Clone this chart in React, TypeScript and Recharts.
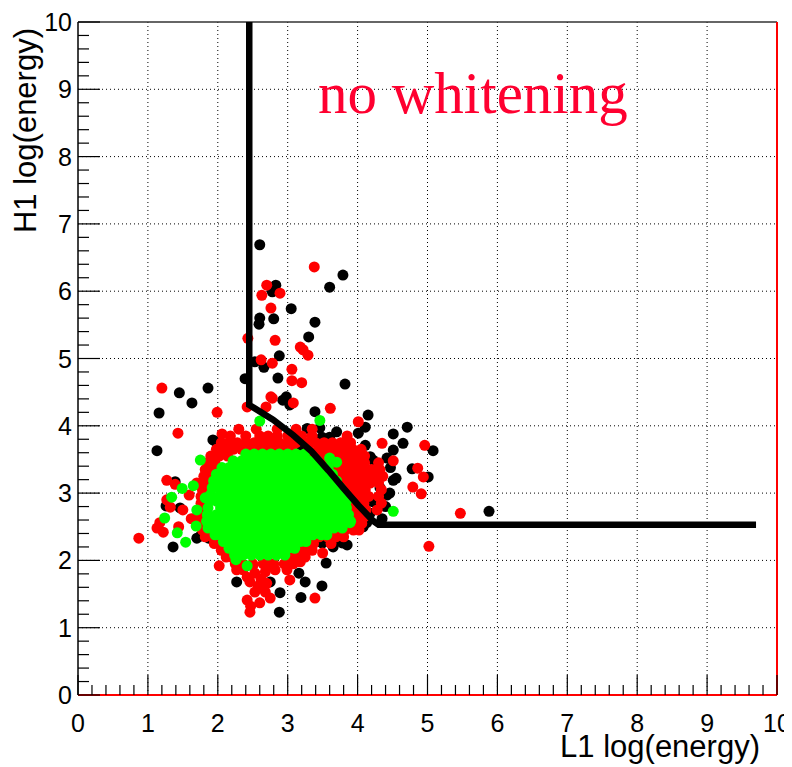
import React from 'react';
import {
  ScatterChart,
  Scatter,
  XAxis,
  YAxis,
  CartesianGrid,
  ReferenceLine,
  Customized,
} from 'recharts';

// ---- axis ticks -------------------------------------------------------
const MAJOR_TICKS = [0, 1, 2, 3, 4, 5, 6, 7, 8, 9, 10];
const MINOR_TICKS = [
  0.2, 0.4, 0.6, 0.8, 1.2, 1.4, 1.6, 1.8, 2.2, 2.4, 2.6, 2.8, 3.2, 3.4, 3.6, 3.8,
  4.2, 4.4, 4.6, 4.8, 5.2, 5.4, 5.6, 5.8, 6.2, 6.4, 6.6, 6.8, 7.2, 7.4, 7.6, 7.8,
  8.2, 8.4, 8.6, 8.8, 9.2, 9.4, 9.6, 9.8,
];
const GRID_VALUES = [1, 2, 3, 4, 5, 6, 7, 8, 9];

// ---- events: all (black) ----------------------------------------------
const BLACK_EVENTS: [number, number][] = [
  [2.60, 6.69], [3.79, 6.24], [3.60, 6.06], [2.83, 6.09], [2.78, 5.99], [3.05, 5.74],
  [2.60, 5.60], [2.59, 5.51], [2.80, 5.59], [3.39, 5.54], [3.30, 5.32], [2.88, 5.04],
  [2.53, 4.95], [2.66, 4.87], [2.39, 4.70], [2.86, 4.71], [3.82, 4.62], [2.98, 4.43],
  [2.93, 4.38], [3.03, 4.31], [3.39, 4.21],
  [1.45, 4.49], [1.63, 4.34], [1.86, 4.56], [1.16, 4.19], [1.13, 3.63], [1.97, 3.77],
  [1.93, 3.79], [2.22, 3.68], [2.32, 3.71], [1.26, 2.81], [1.46, 2.78], [1.39, 3.17],
  [1.89, 2.97], [1.36, 2.20], [1.70, 2.33], [1.87, 2.33], [1.75, 2.36], [1.66, 2.62],
  [2.27, 1.68], [2.60, 1.63], [2.75, 1.68], [2.88, 1.23], [2.89, 1.52], [3.19, 1.45],
  [3.49, 1.62], [3.25, 1.68], [3.16, 1.81], [3.55, 1.96], [3.18, 2.12], [3.50, 2.26],
  [3.78, 2.26], [3.85, 2.23], [3.49, 2.26], [3.36, 2.33], [3.65, 2.20], [2.32, 1.98],
  [4.15, 4.16], [4.11, 3.98], [4.71, 3.98], [4.01, 3.89], [3.70, 3.91], [3.49, 3.83],
  [3.46, 3.97], [3.60, 3.83], [3.28, 3.96],
  [4.51, 3.88], [4.65, 3.74], [4.51, 3.64], [4.11, 3.71], [4.18, 3.54], [4.42, 3.52],
  [5.08, 3.63], [4.78, 3.36], [5.01, 3.24], [5.88, 2.73], [4.22, 3.49], [4.32, 3.08],
  [4.42, 2.97], [4.22, 2.87], [4.18, 2.70], [4.13, 2.56], [4.08, 2.50], [3.75, 2.30],
  [4.51, 3.19], [4.46, 3.00], [4.47, 3.38], [4.55, 3.22], [3.18, 3.71], [4.40, 2.80],
  [4.35, 2.62],
];

// ---- events after first selection (red) --------------------------------
// dense band around the core, one entry per row: [y, xs]
const RED_BAND_ROWS: [number, number[]][] = [
  [3.95, [2.30, 2.55, 2.85, 3.12, 3.35]],
  [3.85, [2.18, 2.40, 2.60, 2.72, 2.85, 3.00, 3.20, 3.35, 3.85]],
  [3.75, [2.05, 2.15, 2.28, 2.40, 2.52, 2.64, 2.76, 2.88, 3.00, 3.12, 3.26, 3.40, 3.52, 3.64, 3.76, 3.90]],
  [3.65, [1.98, 2.10, 2.22, 2.34, 2.46, 2.58, 2.70, 2.82, 2.94, 3.06, 3.30, 3.45, 3.57, 3.69, 3.81, 3.93, 4.05]],
  [3.55, [1.90, 2.02, 2.14, 3.30, 3.40, 3.52, 3.64, 3.76, 3.88, 4.00, 4.10]],
  [3.45, [1.85, 1.96, 3.50, 3.62, 3.74, 3.86, 3.98, 4.10, 4.30]],
  [3.35, [1.82, 1.92, 3.60, 3.72, 3.84, 3.96, 4.08, 4.20, 4.32]],
  [3.25, [1.80, 1.88, 3.66, 3.78, 3.90, 4.02, 4.14, 4.26, 4.36]],
  [3.15, [1.78, 1.86, 3.70, 3.82, 3.94, 4.06, 4.18, 4.30]],
  [3.05, [1.78, 1.84, 3.75, 3.87, 3.99, 4.11, 4.34]],
  [2.95, [1.76, 1.82, 3.80, 3.92, 4.04, 4.16, 4.30]],
  [2.85, [1.76, 3.85, 3.97, 4.09, 4.34]],
  [2.75, [1.75, 3.88, 4.00, 4.12, 4.28]],
  [2.65, [1.74, 3.90, 4.00, 4.10]],
  [2.55, [1.75, 3.85, 3.97, 4.06]],
  [2.45, [1.78, 1.88, 3.70, 3.82, 3.94, 4.02]],
  [2.35, [1.82, 1.92, 3.45, 3.57, 3.69, 3.80]],
  [2.25, [1.95, 2.05, 3.25, 3.37, 3.62]],
  [2.15, [2.05, 2.15, 3.10, 3.22, 3.35]],
  [2.05, [2.12, 2.20, 3.00, 3.12, 3.25]],
  [1.95, [2.25, 2.35, 2.50, 2.65, 2.80, 2.95, 3.08]],
];

const RED_EVENTS: [number, number][] = [
  [3.38, 6.36], [2.70, 6.09], [2.63, 5.94], [2.89, 5.97], [2.76, 5.75], [2.43, 5.30],
  [2.82, 5.27], [3.18, 5.17], [3.22, 5.13], [3.29, 5.05], [2.62, 4.98], [2.78, 4.93],
  [3.06, 4.84], [3.06, 4.67], [3.20, 4.64], [2.76, 4.43], [3.61, 4.26], [3.08, 4.34],
  [2.69, 4.28], [2.78, 4.41], [2.42, 4.28],
  [1.20, 4.56], [1.99, 4.20], [1.43, 3.89], [2.06, 3.88], [1.27, 3.19], [1.39, 3.13],
  [1.59, 2.97], [1.82, 3.15], [1.27, 2.90], [1.32, 2.79], [1.50, 2.75], [1.13, 2.48],
  [1.22, 2.42], [1.17, 2.56], [0.87, 2.33], [1.44, 2.50], [1.70, 3.15], [1.62, 2.62],
  [2.02, 1.92],
  [4.01, 4.06], [4.35, 3.74], [4.96, 3.71], [4.51, 3.48], [4.86, 3.37], [4.94, 3.24],
  [4.79, 3.09], [4.91, 2.99], [5.47, 2.70], [5.02, 2.21],
  [2.46, 1.23], [2.42, 1.41], [2.53, 1.53], [2.68, 1.53], [2.70, 1.66], [2.75, 1.44],
  [2.46, 1.68], [2.42, 1.75], [2.53, 1.81], [2.68, 1.83], [2.60, 1.37], [2.47, 1.32],
  [2.58, 1.62], [2.36, 1.86], [2.27, 1.86], [2.82, 1.86], [2.99, 1.86], [3.03, 1.71],
  [3.18, 1.98], [3.50, 2.11], [3.39, 1.44], [2.62, 1.72], [2.50, 1.92], [2.75, 1.95],
];

// ---- events after second selection (green) -----------------------------
const GREEN_CORE_ROWS: [number, number[]][] = [
  [3.58, [2.40, 2.52, 2.64, 2.76, 2.88, 3.00, 3.12, 3.24]],
  [3.48, [2.22, 2.34, 2.46, 2.58, 2.70, 2.82, 2.94, 3.06, 3.18, 3.30, 3.42]],
  [3.38, [2.06, 2.16, 2.28, 2.40, 2.52, 2.64, 2.76, 2.88, 3.00, 3.12, 3.24, 3.36, 3.48, 3.58]],
  [3.28, [1.98, 2.10, 2.22, 2.34, 2.46, 2.58, 2.70, 2.82, 2.94, 3.06, 3.18, 3.30, 3.42, 3.54, 3.64]],
  [3.18, [1.94, 2.04, 2.16, 2.28, 2.40, 2.52, 2.64, 2.76, 2.88, 3.00, 3.12, 3.24, 3.36, 3.48, 3.60, 3.70]],
  [3.08, [1.92, 2.00, 2.10, 2.22, 2.34, 2.46, 2.58, 2.70, 2.82, 2.94, 3.06, 3.18, 3.30, 3.42, 3.54, 3.66, 3.75]],
  [2.98, [1.90, 2.04, 2.16, 2.28, 2.40, 2.52, 2.64, 2.76, 2.88, 3.00, 3.12, 3.24, 3.36, 3.48, 3.60, 3.72, 3.80]],
  [2.88, [1.88, 1.98, 2.10, 2.22, 2.34, 2.46, 2.58, 2.70, 2.82, 2.94, 3.06, 3.18, 3.30, 3.42, 3.54, 3.66, 3.78, 3.84]],
  [2.78, [1.86, 2.04, 2.16, 2.28, 2.40, 2.52, 2.64, 2.76, 2.88, 3.00, 3.12, 3.24, 3.36, 3.48, 3.60, 3.72, 3.84]],
  [2.68, [1.85, 1.98, 2.10, 2.22, 2.34, 2.46, 2.58, 2.70, 2.82, 2.94, 3.06, 3.18, 3.30, 3.42, 3.54, 3.66, 3.78, 3.87]],
  [2.58, [1.84, 1.94, 2.04, 2.16, 2.28, 2.40, 2.52, 2.64, 2.76, 2.88, 3.00, 3.12, 3.24, 3.36, 3.48, 3.60, 3.72, 3.84, 3.90]],
  [2.48, [1.86, 1.98, 2.10, 2.22, 2.34, 2.46, 2.58, 2.70, 2.82, 2.94, 3.06, 3.18, 3.30, 3.42, 3.54, 3.66, 3.78]],
  [2.38, [1.96, 2.04, 2.16, 2.28, 2.40, 2.52, 2.64, 2.76, 2.88, 3.00, 3.12, 3.24, 3.36, 3.48, 3.56]],
  [2.28, [2.08, 2.22, 2.34, 2.46, 2.58, 2.70, 2.82, 2.94, 3.06, 3.18, 3.26]],
  [2.18, [2.16, 2.28, 2.40, 2.52, 2.64, 2.76, 2.88, 3.00, 3.10]],
  [2.08, [2.24, 2.36, 2.48, 2.60, 2.72, 2.84, 2.96]],
];

const GREEN_EVENTS: [number, number][] = [
  [2.60, 4.07], [3.46, 4.08], [3.60, 3.52], [3.70, 3.46], [1.75, 3.49], [1.49, 3.07],
  [1.65, 3.11], [1.34, 2.94], [1.24, 2.63], [1.42, 2.41], [1.54, 2.27], [1.69, 2.51],
  [1.82, 2.93], [1.70, 2.75], [2.42, 1.92], [2.26, 2.01], [3.75, 2.72], [3.89, 2.56],
  [4.51, 2.73], [3.10, 2.26],
];

// ---- selection boundary ------------------------------------------------
const CUT_LINE: [number, number][] = [
  [2.45, 10.0], [2.45, 4.31], [2.79, 4.09], [3.08, 3.86], [3.34, 3.62], [3.58, 3.34],
  [3.80, 3.07], [4.01, 2.82], [4.22, 2.59], [4.30, 2.53], [9.70, 2.53],
];

const toPoints = (pairs: [number, number][]) => pairs.map(([x, y]) => ({ x, y }));
const fromRows = (rows: [number, number[]][]) =>
  rows.flatMap(([y, xs]) => xs.map((x) => ({ x, y })));

const blackData = toPoints(BLACK_EVENTS);
const redData = [...fromRows(RED_BAND_ROWS), ...toPoints(RED_EVENTS)];
const greenData = [...fromRows(GREEN_CORE_ROWS), ...toPoints(GREEN_EVENTS)];
const cutData = toPoints(CUT_LINE);
const allTicks = [...MAJOR_TICKS, ...MINOR_TICKS].sort((a, b) => a - b);

// ---- layout ------------------------------------------------------------
const CHART_W = 784;
const CHART_H = 759;
const MARGIN = { top: 14, right: 15, bottom: 22, left: 10 };
const Y_AXIS_W = 60;
const X_AXIS_H = 50;
const MARKER_R = 5.5;

const SANS = '"Liberation Sans", Arial, Helvetica, sans-serif';
const SERIF = '"Liberation Serif", "Times New Roman", serif';

const isMajor = (v: number) => MAJOR_TICKS.includes(v);

const XTick = (props: any) => {
  const { x, y, payload } = props;
  const major = isMajor(payload.value);
  return (
    <g>
      <line x1={x} x2={x} y1={y} y2={y - (major ? 20 : 10)} stroke="#000" strokeWidth={1.2} />
      {major && (
        <text x={x} y={y + 37} textAnchor="middle" fontSize={25} fontFamily={SANS} fill="#000">
          {payload.value}
        </text>
      )}
    </g>
  );
};

const YTick = (props: any) => {
  const { x, y, payload } = props;
  const major = isMajor(payload.value);
  return (
    <g>
      <line x1={x} x2={x + (major ? 22 : 11)} y1={y} y2={y} stroke="#000" strokeWidth={1.2} />
      {major && (
        <text x={x - 6} y={y + 9} textAnchor="end" fontSize={25} fontFamily={SANS} fill="#000">
          {payload.value}
        </text>
      )}
    </g>
  );
};

const dot = (color: string) => (p: any) => (
  <circle cx={p.cx} cy={p.cy} r={MARKER_R} fill={color} />
);

const Titles = () => (
  <g>
    <text x={310} y={105} fontSize={59} fontFamily={SERIF} fill="#ff0030">
      no whitening
    </text>
    <text x={752} y={749} textAnchor="end" fontSize={31} fontFamily={SANS} fill="#000">
      L1 log(energy)
    </text>
    <text
      x={28}
      y={20}
      textAnchor="end"
      fontSize={31}
      fontFamily={SANS}
      fill="#000"
      transform="rotate(-90, 28, 20)"
    >
      H1 log(energy)
    </text>
  </g>
);

export default function App() {
  return (
    <div style={{ width: CHART_W, height: CHART_H }}>
      <ScatterChart width={CHART_W} height={CHART_H} margin={MARGIN}>
        <CartesianGrid
          stroke="#000"
          strokeDasharray="1 3"
          horizontalValues={GRID_VALUES}
          verticalValues={GRID_VALUES}
        />
        <XAxis
          type="number"
          dataKey="x"
          domain={[0, 10]}
          ticks={allTicks}
          interval={0}
          height={X_AXIS_H}
          tickSize={0}
          tickMargin={0}
          tickLine={false}
          tick={<XTick />}
          axisLine={{ stroke: '#ff0000', strokeWidth: 2 }}
          allowDataOverflow
        />
        <YAxis
          type="number"
          dataKey="y"
          domain={[0, 10]}
          ticks={allTicks}
          interval={0}
          width={Y_AXIS_W}
          tickSize={0}
          tickMargin={0}
          tickLine={false}
          tick={<YTick />}
          axisLine={{ stroke: '#000', strokeWidth: 1.5 }}
          allowDataOverflow
        />
        <ReferenceLine y={10} stroke="#333" strokeWidth={1.5} />
        <ReferenceLine x={10} stroke="#ff0000" strokeWidth={2} />
        <Scatter data={blackData} shape={dot('#000000')} isAnimationActive={false} />
        <Scatter data={redData} shape={dot('#ff0000')} isAnimationActive={false} />
        <Scatter data={greenData} shape={dot('#00ff00')} isAnimationActive={false} />
        <Scatter
          data={cutData}
          line={{ stroke: '#000', strokeWidth: 6.5 }}
          lineJointType="linear"
          shape={() => <g />}
          isAnimationActive={false}
        />
        <Customized component={Titles} />
      </ScatterChart>
    </div>
  );
}
